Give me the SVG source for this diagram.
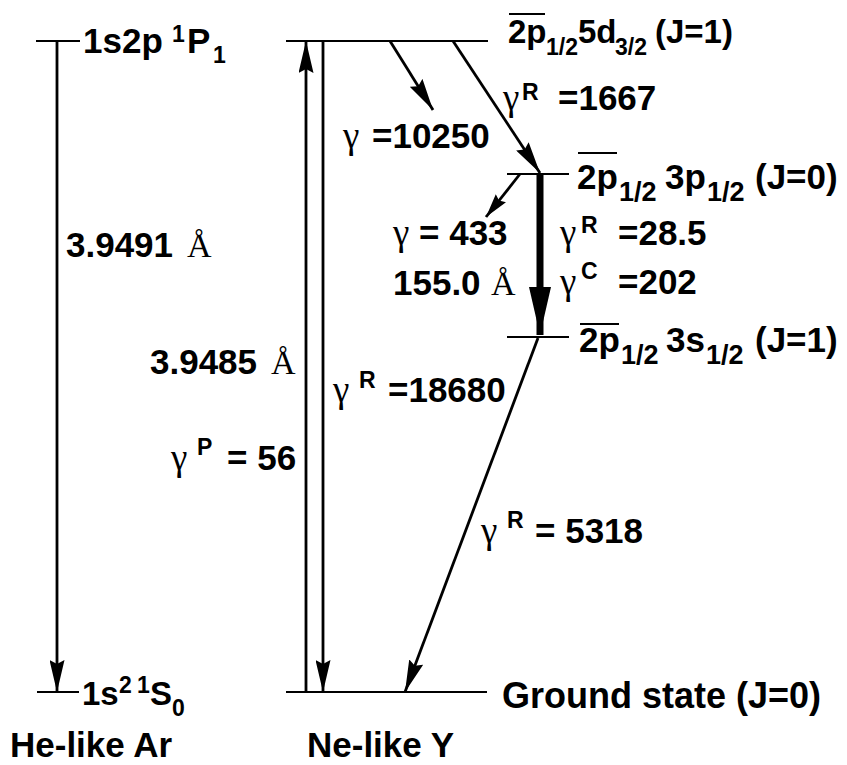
<svg xmlns="http://www.w3.org/2000/svg" width="847" height="765" viewBox="0 0 847 765">
<style>
.b{font-family:"Liberation Sans",Arial,sans-serif;font-weight:bold;font-size:35px;fill:#000}
.m{font-family:"Liberation Sans",Arial,sans-serif;font-weight:bold;font-size:33px;fill:#000}
.s{font-family:"Liberation Sans",Arial,sans-serif;font-weight:bold;font-size:23px;fill:#000}
.t{font-family:"Liberation Sans",Arial,sans-serif;font-weight:bold;font-size:27px;fill:#000}
.g{font-family:"Liberation Serif","Times New Roman",serif;font-size:37px;fill:#000}
.a{font-family:"Liberation Serif","Times New Roman",serif;font-size:34px;fill:#000}
.lv{stroke:#000;stroke-width:2;fill:none}
.ar{stroke:#000;stroke-width:2.8;fill:none}
</style>
<defs>
<marker id="ah" viewBox="0 0 32 15" refX="32" refY="7.5" markerWidth="32" markerHeight="15" orient="auto" markerUnits="userSpaceOnUse"><path d="M0,0 L32,7.5 L0,15 L4,7.5 z" fill="#000"/></marker>
<marker id="ahs" viewBox="0 0 24 13" refX="24" refY="6.5" markerWidth="24" markerHeight="13" orient="auto" markerUnits="userSpaceOnUse"><path d="M0,0 L24,6.5 L0,13 L3,6.5 z" fill="#000"/></marker>
</defs>

<g id="he-upper">
<line class="lv" x1="36" y1="41" x2="80" y2="41"/>
<text class="b" x="83" y="53">1s2p</text>
<text class="s" x="172" y="42">1</text>
<text class="b" x="187" y="53">P</text>
<text class="s" x="213" y="63">1</text>
</g>

<g id="he-ground">
<line class="lv" x1="37" y1="692" x2="79" y2="692"/>
<text class="m" x="82" y="705">1s</text>
<text class="s" x="119" y="693">2</text>
<text class="s" x="137" y="693">1</text>
<text class="m" x="150" y="705">S</text>
<text class="s" x="172" y="716">0</text>
</g>

<g id="ne-5d">
<line class="lv" x1="286" y1="41" x2="488" y2="41"/>
<line class="lv" x1="509" y1="14" x2="545" y2="14"/>
<text class="m" x="508" y="43">2p</text>
<text class="s" x="546" y="55">1/2</text>
<text class="m" x="578" y="43">5d</text>
<text class="s" x="615" y="55">3/2</text>
<text class="m" x="655" y="43">(J=1)</text>
</g>

<g id="ne-3p">
<line class="lv" x1="507" y1="174" x2="569" y2="174"/>
<line class="lv" x1="578" y1="153" x2="617" y2="153"/>
<text class="b" x="577" y="189">2p</text>
<text class="t" x="619" y="201">1/2</text>
<text class="b" x="665" y="189">3p</text>
<text class="t" x="707" y="201">1/2</text>
<text class="b" x="755" y="189">(J=0)</text>
</g>

<g id="ne-3s">
<line class="lv" x1="507" y1="337" x2="569" y2="337"/>
<line class="lv" x1="580" y1="324" x2="619" y2="324"/>
<text class="b" x="579" y="352">2p</text>
<text class="t" x="621" y="364">1/2</text>
<text class="b" x="666" y="352">3s</text>
<text class="t" x="706" y="364">1/2</text>
<text class="b" x="755" y="352">(J=1)</text>
</g>

<g id="ne-ground">
<line class="lv" x1="286" y1="692" x2="487" y2="692"/>
<text class="b" x="502" y="708" style="font-size:36px">Ground state (J=0)</text>
</g>

<g id="titles">
<text class="b" x="10" y="757">He-like Ar</text>
<text class="b" x="307" y="757">Ne-like Y</text>
</g>

<g id="connectors">
<line class="ar" x1="57" y1="41" x2="57" y2="692" marker-end="url(#ah)"/>
<line class="ar" x1="306" y1="692" x2="306" y2="41" marker-end="url(#ah)"/>
<line class="ar" x1="323" y1="41" x2="323" y2="692" marker-end="url(#ah)"/>
<line class="ar" x1="390" y1="41" x2="433" y2="110" marker-end="url(#ah)"/>
<line class="ar" x1="453" y1="41" x2="540" y2="173" marker-end="url(#ah)"/>
<line class="ar" x1="520" y1="174" x2="486" y2="217" marker-end="url(#ahs)"/>
<line x1="540" y1="174" x2="540" y2="335" stroke="#000" stroke-width="7"/>
<polygon points="529,287 551,287 540,335" fill="#000"/>
<line class="ar" x1="538" y1="338" x2="405" y2="692" marker-end="url(#ah)"/>
</g>

<g id="labels">
<text class="b" x="66" y="257">3.9491</text>
<text class="a" x="187" y="257">Å</text>
<text class="b" x="150" y="374">3.9485</text>
<text class="a" x="271" y="374">Å</text>
<text class="g" x="171" y="470">γ</text>
<text class="s" x="197" y="455">P</text>
<text class="b" x="227" y="470">= 56</text>
<text class="g" x="333" y="402">γ</text>
<text class="s" x="359" y="388">R</text>
<text class="b" x="388" y="402">=18680</text>
<text class="g" x="343" y="148">γ</text>
<text class="b" x="372" y="148">=10250</text>
<text class="g" x="503" y="110">γ</text>
<text class="s" x="522" y="100">R</text>
<text class="b" x="558" y="110">=1667</text>
<text class="g" x="393" y="245">γ</text>
<text class="b" x="419" y="245">= 433</text>
<text class="b" x="393" y="295">155.0</text>
<text class="a" x="491" y="295">Å</text>
<text class="g" x="560" y="245">γ</text>
<text class="s" x="581" y="233">R</text>
<text class="b" x="618" y="245">=28.5</text>
<text class="g" x="560" y="294">γ</text>
<text class="s" x="581" y="279">C</text>
<text class="b" x="618" y="294">=202</text>
<text class="g" x="481" y="543">γ</text>
<text class="s" x="507" y="528">R</text>
<text class="b" x="535" y="543">= 5318</text>
</g>
</svg>
